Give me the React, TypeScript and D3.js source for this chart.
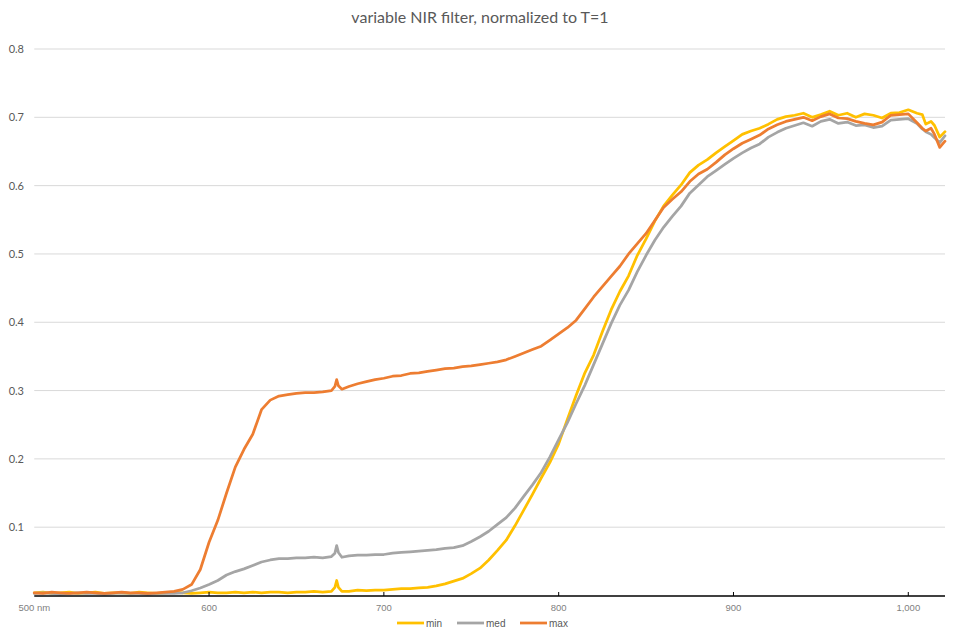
import React from "react";
import * as d3 from "d3";

const wavelengths: number[] = [
  500, 505, 510, 515, 520, 525, 530, 535, 540, 545, 550, 555, 560, 565, 570, 575, 580, 585, 590, 595,
  600, 605, 610, 615, 620, 625, 630, 635, 640, 645, 650, 655, 660, 665, 670, 672, 673, 674, 676, 680,
  685, 690, 695, 700, 705, 710, 715, 720, 725, 730, 735, 740, 745, 750, 755, 760, 765, 770, 775, 780,
  785, 790, 795, 800, 805, 810, 815, 820, 825, 830, 835, 840, 845, 850, 855, 860, 865, 870, 875, 880,
  885, 890, 895, 900, 905, 910, 915, 920, 925, 930, 935, 940, 945, 950, 955, 960, 965, 970, 975, 980,
  985, 990, 995, 1000, 1005, 1008, 1010, 1013, 1015, 1018, 1021,
];

const minValues: number[] = [
  0.004, 0.005, 0.003, 0.004, 0.005, 0.003, 0.004, 0.005, 0.003, 0.004, 0.004, 0.003, 0.005, 0.004, 0.003, 0.004, 0.005, 0.004, 0.003, 0.004,
  0.005, 0.004, 0.004, 0.005, 0.004, 0.005, 0.004, 0.005, 0.005, 0.004, 0.005, 0.005, 0.006, 0.005, 0.006, 0.012, 0.022, 0.012, 0.006, 0.006,
  0.008, 0.007, 0.008, 0.008, 0.009, 0.010, 0.010, 0.011, 0.012, 0.014, 0.017, 0.021, 0.025, 0.032, 0.040, 0.052, 0.066, 0.081, 0.102, 0.125,
  0.148, 0.172, 0.195, 0.222, 0.258, 0.293, 0.326, 0.352, 0.386, 0.418, 0.445, 0.468, 0.498, 0.522, 0.548, 0.570, 0.586, 0.601, 0.619, 0.630,
  0.638, 0.648, 0.657, 0.666, 0.675, 0.680, 0.684, 0.690, 0.697, 0.701, 0.703, 0.706, 0.700, 0.704, 0.709, 0.703, 0.706, 0.700, 0.705, 0.703,
  0.699, 0.706, 0.707, 0.711, 0.706, 0.704, 0.690, 0.694, 0.688, 0.671, 0.679,
];

const medValues: number[] = [
  0.003, 0.004, 0.003, 0.002, 0.003, 0.004, 0.003, 0.003, 0.002, 0.003, 0.004, 0.003, 0.003, 0.002, 0.003, 0.003, 0.003, 0.004, 0.007, 0.011,
  0.016, 0.022, 0.030, 0.035, 0.039, 0.044, 0.049, 0.052, 0.054, 0.054, 0.055, 0.055, 0.056, 0.055, 0.057, 0.062, 0.073, 0.063, 0.056, 0.058,
  0.059, 0.059, 0.060, 0.060, 0.062, 0.063, 0.064, 0.065, 0.066, 0.067, 0.069, 0.070, 0.073, 0.079, 0.086, 0.094, 0.104, 0.114, 0.128, 0.145,
  0.162, 0.180, 0.203, 0.228, 0.253, 0.281, 0.308, 0.338, 0.368, 0.398, 0.425, 0.447, 0.474, 0.498, 0.520, 0.539, 0.555, 0.570, 0.589, 0.601,
  0.613, 0.622, 0.631, 0.640, 0.648, 0.655, 0.661, 0.671, 0.678, 0.684, 0.688, 0.692, 0.687, 0.694, 0.697, 0.691, 0.693, 0.688, 0.689, 0.685,
  0.687, 0.696, 0.697, 0.698, 0.691, 0.683, 0.679, 0.675, 0.670, 0.663, 0.673,
];

const maxValues: number[] = [
  0.004, 0.003, 0.005, 0.004, 0.003, 0.004, 0.005, 0.004, 0.003, 0.004, 0.005, 0.004, 0.004, 0.003, 0.004, 0.005, 0.006, 0.009, 0.016, 0.038,
  0.078, 0.110, 0.150, 0.188, 0.214, 0.236, 0.272, 0.286, 0.292, 0.294, 0.296, 0.297, 0.297, 0.298, 0.300, 0.306, 0.316, 0.307, 0.302, 0.306,
  0.310, 0.313, 0.316, 0.318, 0.321, 0.322, 0.325, 0.326, 0.328, 0.330, 0.332, 0.333, 0.335, 0.336, 0.338, 0.340, 0.342, 0.345, 0.350, 0.355,
  0.360, 0.365, 0.374, 0.383, 0.392, 0.403, 0.420, 0.437, 0.452, 0.467, 0.482, 0.500, 0.515, 0.530, 0.549, 0.568, 0.580, 0.591, 0.606, 0.617,
  0.624, 0.634, 0.645, 0.654, 0.662, 0.668, 0.674, 0.683, 0.689, 0.694, 0.697, 0.700, 0.695, 0.701, 0.705, 0.699, 0.698, 0.694, 0.691, 0.689,
  0.693, 0.703, 0.704, 0.705, 0.692, 0.684, 0.680, 0.684, 0.675, 0.656, 0.665,
];

const seriesNames: string[] = ["min", "med", "max"];
const seriesColors: string[] = ["#FFC000", "#A5A5A5", "#ED7D31"];
const yTicks: number[] = [0.1, 0.2, 0.3, 0.4, 0.5, 0.6, 0.7, 0.8];
const xTicks: number[] = [500, 600, 700, 800, 900, 1000];
const xTickLabels: string[] = ["500 nm", "600", "700", "800", "900", "1,000"];
const title = "variable NIR filter, normalized to T=1";

export default function App() {
  const W = 960;
  const H = 643;
  const x = d3.scaleLinear().domain([500, 1021]).range([34.25, 945]);
  const y = d3.scaleLinear().domain([0, 0.8]).range([595.5, 49]);
  const allSeries = [minValues, medValues, maxValues];
  const line = d3
    .line<number>()
    .x((_, i) => x(wavelengths[i]))
    .y((d) => y(d));

  const legendX = [397, 457, 520];

  return (
    <svg
      width={W}
      height={H}
      style={{ position: "absolute", left: 0, top: 0, background: "#fff" }}
    >
      <rect x={0} y={0} width={W} height={H} fill="#fff" />
      <text
        x={480}
        y={23}
        textAnchor="middle"
        fontFamily="Lato, 'Open Sans', sans-serif"
        fontSize={16}
        fill="#595959"
      >
        {title}
      </text>
      {yTicks.map((t) => (
        <g key={t}>
          <line x1={x(500)} x2={x(1021)} y1={y(t)} y2={y(t)} stroke="#D9D9D9" strokeWidth={1} />
          <text
            x={24}
            y={y(t) + 4}
            textAnchor="end"
            fontFamily="Lato, 'Open Sans', sans-serif"
            fontSize={11}
            fill="#595959"
          >
            {d3.format(".1f")(t)}
          </text>
        </g>
      ))}
      {allSeries.map((vals, si) => (
        <path
          key={si}
          d={line(vals) || ""}
          fill="none"
          stroke={seriesColors[si]}
          strokeWidth={2.75}
          strokeLinejoin="round"
          strokeLinecap="round"
        />
      ))}
      <line x1={x(500)} x2={x(1021)} y1={596} y2={596} stroke="#000" strokeWidth={1.3} />
      {xTicks.map((t, i) => (
        <g key={t}>
          {i > 0 && <line x1={x(t)} x2={x(t)} y1={592} y2={596} stroke="#000" strokeWidth={1} />}
          <text
            x={x(t)}
            y={611}
            textAnchor="middle"
            fontFamily="'Liberation Sans', Arial, sans-serif"
            fontSize={9.5}
            fill="#7F7F7F"
          >
            {xTickLabels[i]}
          </text>
        </g>
      ))}
      {seriesNames.map((n, i) => (
        <g key={n}>
          <line
            x1={legendX[i]}
            x2={legendX[i] + 27}
            y1={623}
            y2={623}
            stroke={seriesColors[i]}
            strokeWidth={2.75}
          />
          <text
            x={legendX[i] + 29}
            y={627}
            fontFamily="'Liberation Sans', Arial, sans-serif"
            fontSize={10}
            fill="#595959"
          >
            {n}
          </text>
        </g>
      ))}
    </svg>
  );
}
